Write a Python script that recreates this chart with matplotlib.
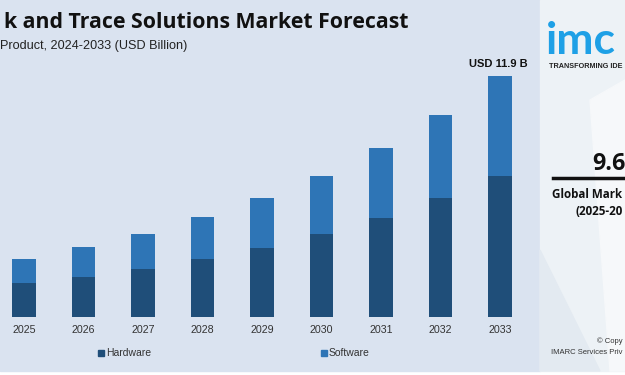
import matplotlib.pyplot as plt
from matplotlib.patches import Rectangle, Polygon

years = ['2025', '2026', '2027', '2028', '2029', '2030', '2031', '2032', '2033']
hardware = [1.68, 1.98, 2.39, 2.85, 3.41, 4.10, 4.89, 5.85, 6.96]
software = [1.17, 1.45, 1.71, 2.06, 2.44, 2.86, 3.43, 4.11, 4.94]
total_label = 'USD 11.9 B'

W, H = 625, 375
dark = '#1f4e79'
light = '#2e75b6'
panel = '#dae3f0'

fig = plt.figure(figsize=(W / 100, H / 100), dpi=100, facecolor='white')
plt.rcParams['font.family'] = ['Liberation Sans', 'DejaVu Sans']
bold_font = ['Open Sans', 'DejaVu Sans']


def px(x, y):
    # pixel (from top-left) -> figure fraction
    return x / W, 1 - y / H


def backdrop(patch):
    patch.set_transform(fig.transFigure)
    patch.set_zorder(-5)
    fig.patches.append(patch)


# background panels
backdrop(Rectangle((0, 1 - 371 / H), 540 / W, 371 / H, color=panel))
backdrop(Rectangle((540 / W, 1 - 371 / H), 85 / W, 371 / H, color='#edf2f6'))
backdrop(Polygon([px(540, 250), px(600, 371), px(540, 371)], closed=True,
                 color='#e3eaf1'))
backdrop(Polygon([px(590, 100), px(625, 80), px(625, 371), px(610, 371)],
                 closed=True, color='#f6f8fa'))

# main chart axes: baseline at y=317px, bar centres at 24 + 59.5*i px
base_px, top_px = 317, 60
ax = fig.add_axes([0, (H - base_px) / H, 540 / W, (base_px - top_px) / H])
ax.set_facecolor('none')
x = list(range(len(years)))
ax.bar(x, hardware, width=0.395, color=dark, zorder=2)
ax.bar(x, software, width=0.395, bottom=hardware, color=light, zorder=2)
ymax = (hardware[-1] + software[-1]) * (base_px - top_px) / (base_px - 75.7)
ax.set_ylim(0, ymax)
ax.set_xlim(-24 / 59.5, (540 - 24) / 59.5)
for s in ax.spines.values():
    s.set_visible(False)
ax.set_yticks([])
ax.set_xticks(x)
ax.set_xticklabels(years, fontsize=7.7, color='#333333')
ax.tick_params(axis='x', length=0, pad=6)
ax.text(x[-1] - 0.03, hardware[-1] + software[-1] + 0.35, total_label,
        ha='center', va='bottom', fontsize=8, fontweight='bold', color='#111111')

# legend
for sx, name, c in [(98, 'Hardware', dark), (321, 'Software', light)]:
    fig.patches.append(Rectangle(px(sx, 356), 6 / W, 6 / H,
                                 transform=fig.transFigure, color=c, zorder=3))
    fig.text(*px(sx + 8, 353.5), name, fontsize=7.5, color='#333333',
             ha='left', va='center')

# titles (the source image is cropped at its left edge)
fig.text(*px(408, 22), 'k and Trace Solutions Market Forecast',
         ha='right', va='center', fontsize=15.35, fontweight='bold',
         color='#111111', family=bold_font)
fig.text(*px(0.5, 46), 'Product, 2024-2033 (USD Billion)',
         ha='left', va='center', fontsize=9.1, color='#222222')

# right side brand panel (also cropped at the right edge)
fig.text(*px(546, 54), 'imc', ha='left', va='baseline', fontsize=32,
         fontweight='bold', color='#1ea0e6', family=['Lato', 'DejaVu Sans'])
fig.text(*px(549, 66.5), 'TRANSFORMING IDE', ha='left', va='center',
         fontsize=5.2, fontweight='bold', color='#222222')
fig.text(*px(592, 164.5), '9.6', ha='left', va='center', fontsize=16.8,
         fontweight='bold', color='#111111', family=bold_font)
fig.lines.append(plt.Line2D([553 / W, 1], [1 - 178 / H] * 2, transform=fig.transFigure,
                            color='#111111', lw=2.5))
fig.text(*px(551.5, 195), 'Global Mark', ha='left', va='center',
         fontsize=8.4, fontweight='bold', color='#111111', family=bold_font)
fig.text(*px(576, 211.5), '(2025-20', ha='left', va='center',
         fontsize=8.4, fontweight='bold', color='#111111', family=bold_font)
fig.text(*px(597, 341), '\u00a9 Copy', ha='left', va='center',
         fontsize=5.5, color='#333333')
fig.text(*px(551, 353), 'IMARC Services Priv', ha='left', va='center',
         fontsize=5.5, color='#333333')

fig.savefig('out.png', dpi=100)
